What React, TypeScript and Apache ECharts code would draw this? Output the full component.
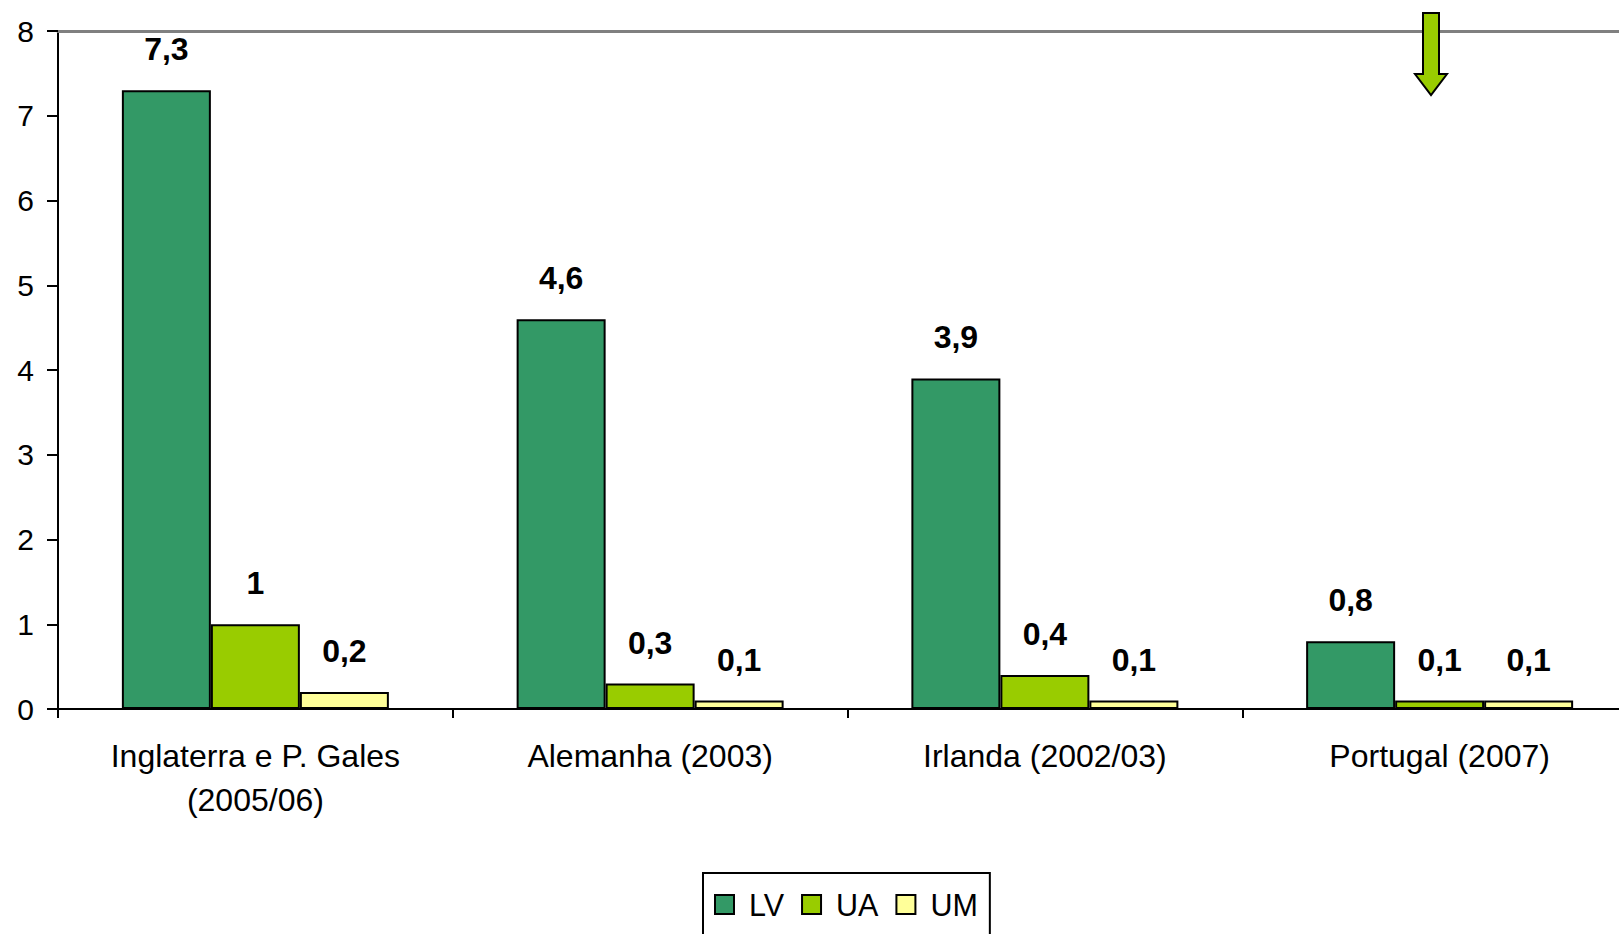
import React, { useEffect, useRef } from "react";
import * as echarts from "echarts";

const categories = [
  "Inglaterra e P. Gales\n(2005/06)",
  "Alemanha (2003)",
  "Irlanda (2002/03)",
  "Portugal (2007)",
];
const seriesNames = ["LV", "UA", "UM"];
const lvValues = [7.3, 4.6, 3.9, 0.8];
const uaValues = [1, 0.3, 0.4, 0.1];
const umValues = [0.2, 0.1, 0.1, 0.1];
const seriesColors = ["#339966", "#99CC00", "#FFFF99"];
const yMin = 0;
const yMax = 8;
const yInterval = 1;

const FONT = "'Liberation Sans', Arial, sans-serif";
const comma = (v: number) => String(v).replace(".", ",");

export default function App() {
  const ref = useRef<HTMLDivElement>(null);
  useEffect(() => {
    if (!ref.current) return;
    document.body.style.margin = "0";
    const chart = echarts.init(ref.current, null, { renderer: "svg" });
    const values = [lvValues, uaValues, umValues];
    chart.setOption({
      animation: false,
      backgroundColor: "#ffffff",
      textStyle: { fontFamily: FONT, color: "#000" },
      grid: {
        left: 58,
        top: 31,
        width: 1579,
        bottom: 225,
        containLabel: false,
        outerBoundsMode: "none",
      },
      legend: {
        data: seriesNames,
        left: 703,
        top: 873,
        orient: "horizontal",
        padding: [16, 12, 24, 11],
        borderColor: "#000",
        borderWidth: 2,
        itemWidth: 19,
        itemHeight: 19,
        itemGap: 17,
        icon: "rect",
        itemStyle: { borderColor: "#000", borderWidth: 2 },
        textStyle: {
          fontFamily: FONT,
          fontSize: 30.5,
          color: "#000",
          padding: [0, 0, 0, 10],
        },
      },
      xAxis: [
        {
          type: "category",
          data: categories,
          position: "bottom",
          axisLine: { show: true, lineStyle: { color: "#000", width: 2 } },
          axisTick: {
            show: true,
            interval: 0,
            length: 9,
            alignWithLabel: false,
            lineStyle: { color: "#000", width: 2 },
          },
          axisLabel: {
            interval: 0,
            fontFamily: FONT,
            fontSize: 32,
            lineHeight: 44,
            color: "#000",
            margin: 25,
          },
          splitLine: { show: false },
        },
        {
          type: "category",
          data: categories,
          position: "top",
          axisLine: { show: true, lineStyle: { color: "#808080", width: 3 } },
          axisTick: { show: false },
          axisLabel: { show: false },
          splitLine: { show: false },
        },
      ],
      yAxis: {
        type: "value",
        min: yMin,
        max: yMax,
        interval: yInterval,
        axisLine: { show: true, lineStyle: { color: "#000", width: 2 } },
        axisTick: { show: true, length: 11, lineStyle: { color: "#000", width: 2 } },
        axisLabel: {
          fontFamily: FONT,
          fontSize: 30,
          color: "#000",
          margin: 24,
          formatter: (v: number) => comma(v),
        },
        splitLine: { show: false },
      },
      series: seriesNames.map((name, i) => ({
        name,
        type: "bar",
        xAxisIndex: 0,
        data: values[i],
        barWidth: 89,
        barGap: "0%",
        itemStyle: { color: seriesColors[i], borderColor: "#000", borderWidth: 2 },
        label: {
          show: true,
          position: "top",
          distance: 25,
          fontFamily: FONT,
          fontSize: 32,
          fontWeight: "bold",
          color: "#000",
          formatter: (p: any) => comma(p.value),
        },
      })),
      graphic: [
        {
          type: "polygon",
          z: 100,
          shape: {
            points: [
              [1423, 13],
              [1439, 13],
              [1439, 74],
              [1447, 74],
              [1431, 95],
              [1415, 74],
              [1423, 74],
            ],
          },
          style: { fill: "#99CC00", stroke: "#000", lineWidth: 2 },
        },
      ],
    });
    return () => chart.dispose();
  }, []);
  return (
    <div
      ref={ref}
      style={{ position: "absolute", left: 0, top: 0, width: 1619, height: 934 }}
    />
  );
}
